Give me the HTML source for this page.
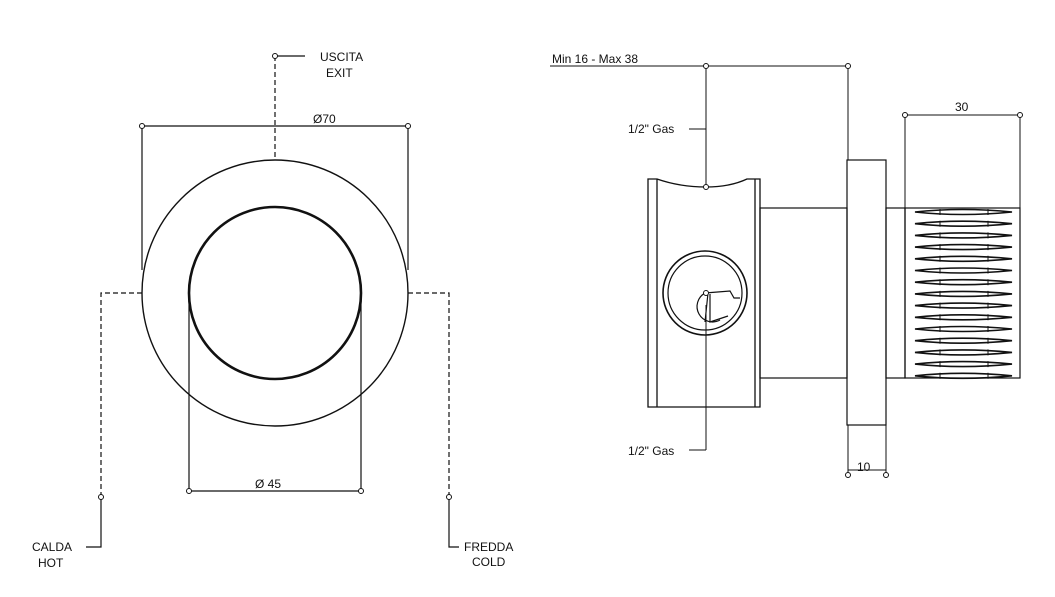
<!DOCTYPE html><html><head><style>body{margin:0;background:#fff}svg{display:block}text{font-family:"Liberation Sans",sans-serif;font-size:12px;fill:#111}</style></head><body>
<svg id="s" width="1055" height="597" viewBox="0 0 1055 597" fill="none" stroke="#111" stroke-width="1.2">
<circle cx="275" cy="293" r="133" stroke-width="1.4"/>
<circle cx="275" cy="293" r="86" stroke-width="2.6"/>
<g stroke-dasharray="5,3"><path d="M275 56V160M142 293H101V497M408 293H449V497"/></g>
<path d="M275 56H305M142 126H408M142 126V270M408 126V270M189 300V491M361 300V491M189 491H361M101 497V547H86M449 497V547H459"/>
<g fill="#fff" stroke-width="1"><circle cx="275" cy="56" r="2.5"/><circle cx="142" cy="126" r="2.5"/><circle cx="408" cy="126" r="2.5"/><circle cx="189" cy="491" r="2.5"/><circle cx="361" cy="491" r="2.5"/><circle cx="101" cy="497" r="2.5"/><circle cx="449" cy="497" r="2.5"/></g>
<g stroke="none"><text x="320" y="61">USCITA</text><text x="326" y="77">EXIT</text><text x="313" y="123">Ø70</text><text x="255" y="488">Ø 45</text>
<text x="32" y="551">CALDA</text><text x="38" y="567">HOT</text><text x="464" y="551">FREDDA</text><text x="472" y="566">COLD</text>
<text x="552" y="63">Min 16 - Max 38</text><text x="628" y="133">1/2" Gas</text><text x="628" y="455">1/2" Gas</text><text x="857" y="471">10</text><text x="955" y="111">30</text></g>
<path d="M550 66H848M706 66V187M848 66V160M689 129H706M706 305V450M689 450H706M848 425V475M886 425V475M848 470H886M905 115H1020M905 115V208M1020 115V208" stroke-width="1"/>
<path d="M648 179H657Q680 187 706 187Q730 187 747 179H760V407H648Z M657 179V407 M755 179V407" stroke-width="1.3"/>
<rect x="760" y="208" width="87" height="170"/>
<rect x="847" y="160" width="39" height="265"/>
<rect x="886" y="208" width="19" height="170"/>
<rect x="905" y="208" width="115" height="170"/>
<circle cx="705" cy="293" r="42" stroke-width="1.6"/><circle cx="705" cy="293" r="37"/>
<path d="M705 293A13 13 0 1 0 720 320M705 293L730 291L734 298L740 298M708 293L705 322M710 294L710 322L728 316"/>
<g id="k" stroke-width="1.6"></g>
<g fill="#fff" stroke-width="1"><circle cx="706" cy="66" r="2.5"/><circle cx="848" cy="66" r="2.5"/><circle cx="706" cy="187" r="2.5"/><circle cx="706" cy="293" r="2.5"/><circle cx="848" cy="475" r="2.5"/><circle cx="886" cy="475" r="2.5"/><circle cx="905" cy="115" r="2.5"/><circle cx="1020" cy="115" r="2.5"/></g>
</svg>
<script>
var g=document.getElementById('k'),h='';
for(var i=0;i<15;i++){var y=212+i*11.7;h+='<path d="M915 '+y+'Q962 '+(y-5)+' 1012 '+y+'Q962 '+(y+5)+' 915 '+y+'Z"/><path d="M940 '+(y-3)+'V'+(y+3)+'M988 '+(y-3)+'V'+(y+3)+'" stroke-width="1"/>';}
g.innerHTML=h;
</script>
</body></html>
